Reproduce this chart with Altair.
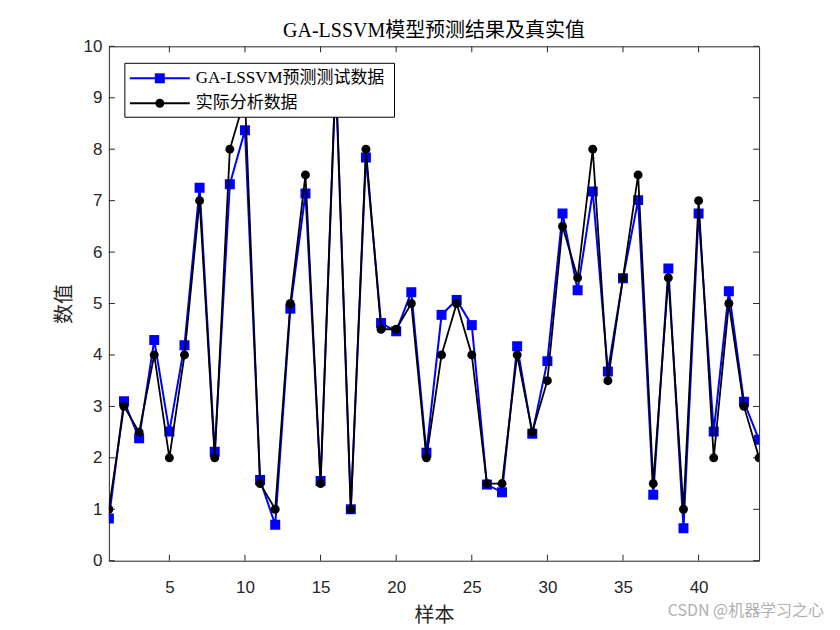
import altair as alt
import pandas as pd

samples = list(range(1, 45))
pred = [0.82, 3.10, 2.38, 4.29, 2.51, 4.19, 7.25, 2.12, 7.32, 8.37,
        1.57, 0.70, 4.90, 7.14, 1.55, 9.40, 1.00, 7.84, 4.62, 4.46,
        5.22, 2.10, 4.78, 5.07, 4.58, 1.48, 1.33, 4.17, 2.47, 3.88,
        6.75, 5.26, 7.18, 3.68, 5.49, 7.01, 1.28, 5.68, 0.63, 6.75,
        2.51, 5.24, 3.09, 2.35]
actual = [1.0, 3.0, 2.5, 4.0, 2.0, 4.0, 7.0, 2.0, 8.0, 9.0,
          1.5, 1.0, 5.0, 7.5, 1.5, 9.5, 1.0, 8.0, 4.5, 4.5,
          5.0, 2.0, 4.0, 5.0, 4.0, 1.5, 1.5, 4.0, 2.5, 3.5,
          6.5, 5.5, 8.0, 3.5, 5.5, 7.5, 1.5, 5.5, 1.0, 7.0,
          2.0, 5.0, 3.0, 2.0]
series_names = ["GA-LSSVM预测测试数据", "实际分析数据"]
series_colors = ["#0000ff", "#000000"]
x_ticks = [5, 10, 15, 20, 25, 30, 35, 40]
y_ticks = list(range(0, 11))

W, H = 651, 515

df_pred = pd.DataFrame({"sample": samples, "value": pred, "series": series_names[0]})
df_act = pd.DataFrame({"sample": samples, "value": actual, "series": series_names[1]})
df_xt = pd.DataFrame({"t": x_ticks})
df_yt = pd.DataFrame({"t": y_ticks})

xs = alt.Scale(domain=[1, 44], nice=False, zero=False)
ys = alt.Scale(domain=[0, 10], nice=False, zero=False)

x_axis = alt.Axis(values=x_ticks, ticks=False, tickSize=0, domain=False, grid=False,
                  labelFont="Liberation Sans", labelFontSize=17, labelColor="#262626",
                  labelPadding=19, title="样本", titleFont="Noto Sans CJK SC",
                  titleFontSize=20, titleFontWeight="normal", titleColor="#262626",
                  titlePadding=10)
y_axis = alt.Axis(values=y_ticks, ticks=False, tickSize=0, domain=False, grid=False,
                  labelFont="Liberation Sans", labelFontSize=17, labelColor="#262626",
                  labelPadding=7, title="数值", titleFont="Noto Sans CJK SC",
                  titleFontSize=20, titleFontWeight="normal", titleColor="#262626",
                  titlePadding=9)

X = alt.X("sample:Q", scale=xs, axis=x_axis)
Y = alt.Y("value:Q", scale=ys, axis=y_axis)

blue_line = alt.Chart(df_pred).mark_line(color=series_colors[0], strokeWidth=2, clip=True).encode(x=X, y=Y)
blue_pts = alt.Chart(df_pred).mark_square(color=series_colors[0], size=100, opacity=1, clip=True).encode(x=X, y=Y)
black_line = alt.Chart(df_act).mark_line(color=series_colors[1], strokeWidth=1.8, clip=True).encode(x=X, y=Y)
black_pts = alt.Chart(df_act).mark_circle(color=series_colors[1], size=80, opacity=1, clip=True).encode(x=X, y=Y)

# ticks pointing inward on all four sides (box style)
xt_bot = alt.Chart(df_xt).mark_rule(color="#262626", strokeWidth=1).encode(
    x=alt.X("t:Q", scale=xs), y=alt.value(H), y2=alt.value(H - 6))
xt_top = alt.Chart(df_xt).mark_rule(color="#262626", strokeWidth=1).encode(
    x=alt.X("t:Q", scale=xs), y=alt.value(0), y2=alt.value(6))
yt_left = alt.Chart(df_yt).mark_rule(color="#262626", strokeWidth=1).encode(
    y=alt.Y("t:Q", scale=ys), x=alt.value(0), x2=alt.value(6))
yt_right = alt.Chart(df_yt).mark_rule(color="#262626", strokeWidth=1).encode(
    y=alt.Y("t:Q", scale=ys), x=alt.value(W), x2=alt.value(W - 6))

# legend box drawn above the data
leg_font = "Liberation Serif, Noto Sans CJK SC"
one = pd.DataFrame({"a": [0]})
leg_box = alt.Chart(one).mark_rect(fill="white", stroke="black", strokeWidth=1).encode(
    x=alt.value(16), x2=alt.value(286), y=alt.value(17), y2=alt.value(71))
leg_items = []
rows_y = [32, 57]
for name, col, ry, i in zip(series_names, series_colors, rows_y, range(2)):
    d = pd.DataFrame({"label": [name]})
    leg_items.append(alt.Chart(d).mark_rule(color=col, strokeWidth=2 if i == 0 else 1.8).encode(
        x=alt.value(21), x2=alt.value(81), y=alt.value(ry)))
    if i == 0:
        leg_items.append(alt.Chart(d).mark_square(color=col, size=100, opacity=1).encode(
            x=alt.value(51), y=alt.value(ry)))
    else:
        leg_items.append(alt.Chart(d).mark_circle(color=col, size=80, opacity=1).encode(
            x=alt.value(51), y=alt.value(ry)))
    leg_items.append(alt.Chart(d).mark_text(align="left", baseline="middle", font=leg_font,
                                            fontSize=17, color="black").encode(
        text="label:N", x=alt.value(87), y=alt.value(ry)))

watermark = alt.Chart(pd.DataFrame({"s": ["CSDN @机器学习之心"]})).mark_text(
    align="right", baseline="middle", font="Noto Sans CJK SC", fontSize=16, color="#b0b0b0"
).encode(text="s:N", x=alt.value(716), y=alt.value(565))

chart = alt.layer(
    xt_bot, xt_top, yt_left, yt_right,
    blue_line, blue_pts, black_line, black_pts, leg_box, *leg_items, watermark
).properties(
    width=W, height=H,
    title=alt.TitleParams("GA-LSSVM模型预测结果及真实值", font=leg_font,
                          fontSize=20, fontWeight="normal", color="#000000", offset=-4),
    autosize=alt.AutoSizeParams(type="none"),
    padding={"left": 101, "top": 38, "right": 73, "bottom": 69},
    background="white",
).configure_view(stroke="#262626", strokeWidth=1)

chart.save("out.html", embed_options={"renderer": "svg", "actions": False})
